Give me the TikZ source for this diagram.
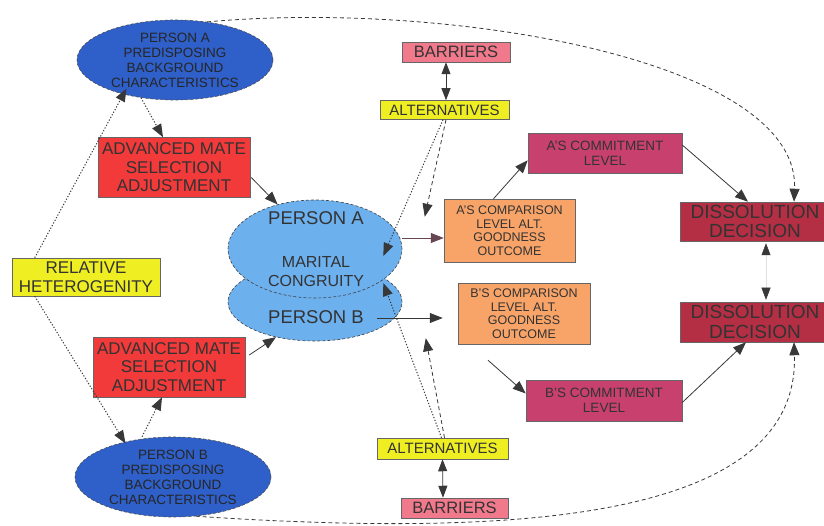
\documentclass[tikz,border=0pt]{standalone}
\usepackage{fontspec}
\setmainfont{Liberation Sans}
\usetikzlibrary{arrows.meta,shapes.geometric}
\definecolor{pblue}{HTML}{2F5FC8}
\definecolor{lblue}{HTML}{6CB0EE}
\definecolor{mred}{HTML}{F23A3A}
\definecolor{myellow}{HTML}{EEEE22}
\definecolor{mpink}{HTML}{F07A8C}
\definecolor{mmag}{HTML}{C8406E}
\definecolor{morange}{HTML}{F8A468}
\definecolor{dred}{HTML}{B42E44}
\newcommand\fsz[2]{\fontsize{#1}{#2}\selectfont}
\begin{document}
\begin{tikzpicture}[x=1pt,y=-1pt,
  tx/.style={text=black!80, inner sep=0pt, align=center},
  box/.style={rectangle, draw=black!60, line width=0.5pt, inner sep=0pt, align=center, text=black!80},
  pell/.style={ellipse, draw=black!70, densely dashed, line width=0.6pt, fill=pblue, inner sep=0pt, align=center, text=black!85, minimum width=196pt, minimum height=80pt, font=\fsz{13.5}{15}},
  cell/.style={ellipse, draw=black!75, densely dashed, line width=0.6pt, fill=lblue, minimum width=174pt, inner sep=0pt},
  tip/.style={-{Triangle[length=13pt,width=10pt]}},
  dtip/.style={{Triangle[length=12pt,width=9pt]}-{Triangle[length=12pt,width=9pt]}},
  con/.style={draw=black!78, line width=0.8pt},
  dotln/.style={con, line width=1pt, dash pattern=on 1.2pt off 1.8pt},
  dashln/.style={con, dash pattern=on 4pt off 3pt}
]
\useasboundingbox[fill=white] (0,0) rectangle (824,526);

% left side
\node[pell] (pa) at (175,60) {PERSON A\\PREDISPOSING\\BACKGROUND\\CHARACTERISTICS};
\node[pell] (pb) at (173,477) {PERSON B\\PREDISPOSING\\BACKGROUND\\CHARACTERISTICS};
\node[box, fill=mred, minimum width=152pt, minimum height=60pt, font=\fsz{17}{18.5}] (amt) at (174,167.5) {ADVANCED MATE\\SELECTION\\ADJUSTMENT};
\node[box, fill=mred, minimum width=152pt, minimum height=60pt, font=\fsz{17}{18.5}] (amb) at (169,367) {ADVANCED MATE\\SELECTION\\ADJUSTMENT};
\node[box, fill=myellow, minimum width=148pt, minimum height=38pt, font=\fsz{17}{19}] (rh) at (86,277) {RELATIVE\\HETEROGENITY};

% central ellipses
\node[cell, minimum height=78pt] (ceb) at (315,302) {};
\node[cell, minimum height=98pt] (cea) at (315,249) {};
\node[tx, font=\fsz{18.5}{20}] (tpa) at (316,218) {PERSON A};
\node[tx, font=\fsz{16}{19}] (tmc) at (316,272) {MARITAL\\CONGRUITY};
\node[tx, font=\fsz{18.5}{20}] (tpb) at (316,317) {PERSON B};

% middle column
\node[box, fill=mpink, minimum width=108pt, minimum height=20pt, font=\fsz{16.5}{18}] (bt) at (456,52) {BARRIERS};
\node[box, fill=myellow, minimum width=129pt, minimum height=19pt, font=\fsz{15}{17}] (at) at (444.5,110) {ALTERNATIVES};
\node[box, fill=myellow, minimum width=131pt, minimum height=21pt, font=\fsz{15}{17}] (ab) at (442.5,448.5) {ALTERNATIVES};
\node[box, fill=mpink, minimum width=107pt, minimum height=20pt, font=\fsz{16.5}{18}] (bb) at (454.5,508) {BARRIERS};
\node[box, fill=morange, minimum width=131pt, minimum height=63pt, font=\fsz{12.5}{13.5}] (acmp) at (509.5,230.5) {A'S COMPARISON\\LEVEL ALT.\\GOODNESS\\OUTCOME};
\node[box, fill=morange, minimum width=132pt, minimum height=61pt, font=\fsz{12.5}{13.5}] (bcmp) at (524,313.5) {B'S COMPARISON\\LEVEL ALT.\\GOODNESS\\OUTCOME};
\node[box, fill=mmag, minimum width=154pt, minimum height=40pt, font=\fsz{13.5}{15}] (acl) at (605,153) {A'S COMMITMENT\\LEVEL};
\node[box, fill=mmag, minimum width=156pt, minimum height=41pt, font=\fsz{13.5}{15}] (bcl) at (604,400.5) {B'S COMMITMENT\\LEVEL};
\node[box, fill=dred, minimum width=150pt, minimum height=39pt, font=\fsz{19}{19.5}] (dt) at (755,221.5) {DISSOLUTION\\DECISION};
\node[box, fill=dred, minimum width=150pt, minimum height=40pt, font=\fsz{19}{19.5}] (db) at (755,322) {DISSOLUTION\\DECISION};

% long curves
\draw[dashln,tip] (pa.50) .. controls (450,0) and (800,60) .. ([xshift=39pt]dt.north);
\draw[dashln,tip] (pb.-60) .. controls (480,535) and (800,530) .. ([xshift=39pt]db.south);

% left connectors
\draw[dotln,tip] (pa.228) -- ([xshift=-11pt]amt.north);
\draw[con,tip] ([xshift=1pt,yshift=-10pt]amt.east) -- (cea.130);
\draw[dotln,tip] ([xshift=23pt]rh.north west) -- ([xshift=21pt]pa.south west);
\draw[dotln,tip] ([xshift=23pt]rh.south west) -- ([xshift=22pt,yshift=5pt]pb.north west);
\draw[dotln,tip] ([xshift=-31pt]pb.north) -- ([xshift=-7pt]amb.south);
\draw[con,tip] ([xshift=4pt,yshift=12pt]amb.east) -- (ceb.222);

% barriers / alternatives
\draw[con,dtip] ([xshift=-10pt]bt.south) -- ([xshift=1.5pt]at.north);
\draw[con,dtip] (ab.south) -- ([xshift=-11.5pt]bb.north);
\draw[dotln,tip] ([xshift=-1.5pt]at.south) -- ([xshift=-19pt,yshift=-7pt]cea.east);
\draw[dashln,tip] ([xshift=1.5pt]at.south) -- ([xshift=-19pt,yshift=-18pt]acmp.north west);
\draw[dotln,tip] ([xshift=-1pt]ab.north) -- ([xshift=-19pt,yshift=19pt]ceb.east);
\draw[dashln,tip] ([xshift=2pt]ab.north) -- ([xshift=-32pt,yshift=6pt]bcmp.south west);

% central to comparison
\draw[con,draw=black!55!magenta!70!black,tip] ([yshift=11pt]cea.east) -- ([yshift=-7.5pt]acmp.west);
\draw[con,tip] ([xshift=-25pt,yshift=-16pt]ceb.east) -- ([xshift=-15pt,yshift=-4.5pt]bcmp.west);

% comparison to commitment
\draw[con,tip] ([xshift=-16pt]acmp.north) -- ([yshift=13pt]acl.south west);
\draw[con,tip] ([xshift=-36pt,yshift=-16pt]bcmp.south) -- ([yshift=7pt]bcl.west);

% commitment to dissolution
\draw[con,tip] ([yshift=8pt]acl.east) -- ([xshift=-7pt]dt.north);
\draw[con,tip] ([yshift=-2pt]bcl.east) -- ([xshift=-9pt]db.south);

% dissolution to dissolution
\draw[draw=black!12, line width=0.5pt, {Triangle[length=12pt,width=9pt,color=black!78]}-{Triangle[length=12pt,width=9pt,color=black!78]}] ([xshift=11pt,yshift=-2pt]dt.south) -- ([xshift=11pt,yshift=2pt]db.north);
\end{tikzpicture}
\end{document}
